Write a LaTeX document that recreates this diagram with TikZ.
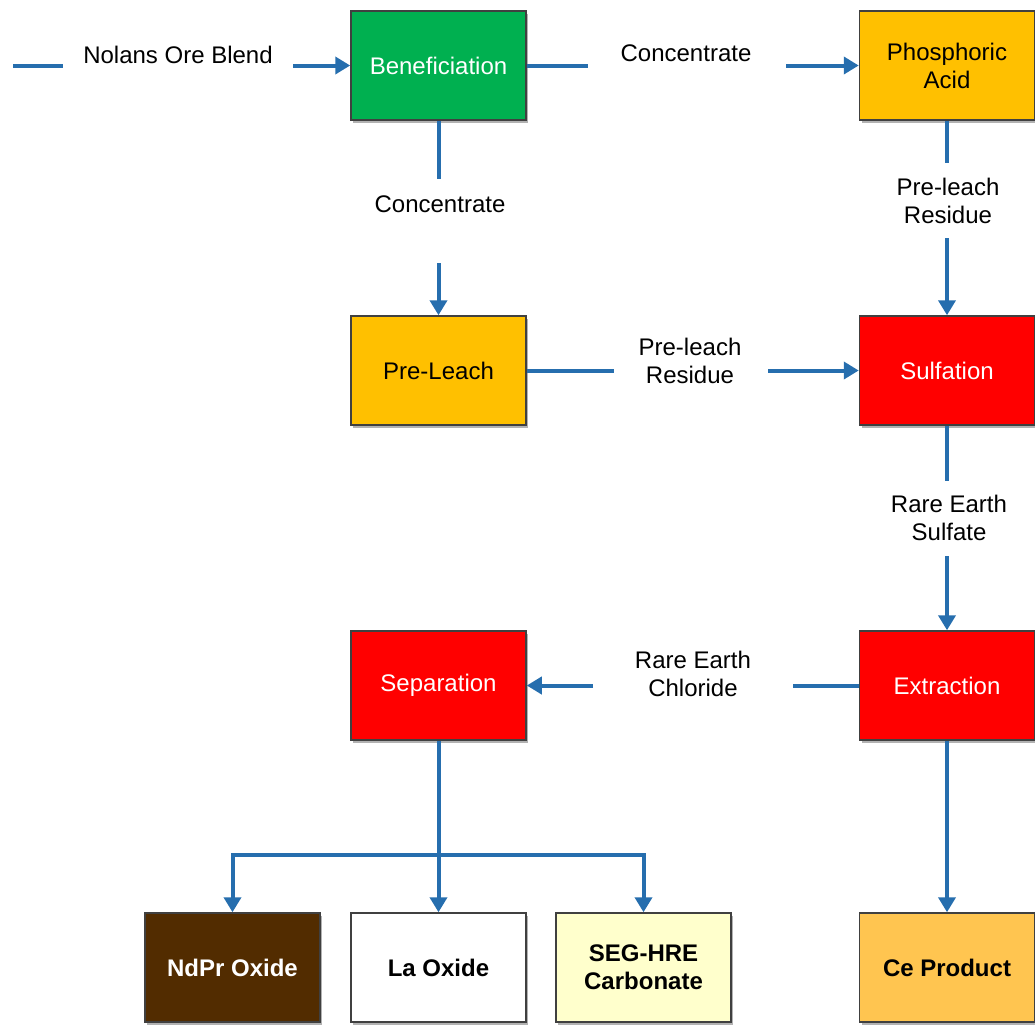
\documentclass[tikz,border=0pt]{standalone}
\usepackage{fontspec}
\setmainfont{Liberation Sans}
\usetikzlibrary{arrows.meta,shadows}
\definecolor{flowblue}{RGB}{38,110,174}
\definecolor{boxedge}{RGB}{64,64,64}
\definecolor{cgreen}{RGB}{0,176,80}
\definecolor{corange}{RGB}{255,192,0}
\definecolor{cred}{RGB}{255,0,0}
\definecolor{cbrown}{RGB}{82,44,0}
\definecolor{cyellow}{RGB}{255,255,204}
\definecolor{cce}{RGB}{255,197,80}
\tikzset{
  procbox/.style={rectangle, draw=boxedge, line width=1.5pt, minimum width=175pt, minimum height=109pt,
    inner sep=0pt, align=center, font=\fontsize{24}{28}\selectfont,
    drop shadow={shadow xshift=2pt, shadow yshift=-3pt, opacity=0.3, fill=black}},
  prodbox/.style={procbox, font=\fontsize{24}{28}\selectfont\bfseries},
  lbl/.style={align=center, inner sep=0pt, font=\fontsize{24}{28}\selectfont},
  flow/.style={draw=flowblue, line width=4pt},
  flowarrow/.style={flow, -{Triangle[length=15pt,width=17pt]}},
}
\begin{document}
\begin{tikzpicture}[x=1pt,y=1pt]
\useasboundingbox (0,0) rectangle (1035,-1026);
% boxes
\node[procbox, fill=cgreen, text=white] (benef) at (438.5,-65.5) {Beneficiation};
\node[procbox, fill=corange] (phos) at (947,-65.5) {Phosphoric\\Acid};
\node[procbox, fill=corange] (prel) at (438.5,-370.5) {Pre-Leach};
\node[procbox, fill=cred, text=white] (sulf) at (947,-370.5) {Sulfation};
\node[procbox, fill=cred, text=white] (sep) at (438.5,-685.5) {Separation};
\node[procbox, fill=cred, text=white] (extr) at (947,-685.5) {Extraction};
\node[prodbox, fill=cbrown, text=white] (ndpr) at (232.5,-967.5) {NdPr Oxide};
\node[prodbox, fill=white] (la) at (438.5,-967.5) {La Oxide};
\node[prodbox, fill=cyellow] (seg) at (643.5,-967.5) {SEG-HRE\\Carbonate};
\node[prodbox, fill=cce] (ce) at (947,-967.5) {Ce Product};
% labels
\node[lbl] (lore) at (178,-55) {Nolans Ore Blend};
\node[lbl] (lconc1) at (686,-53) {Concentrate};
\node[lbl] (lconc2) at (440,-204) {Concentrate};
\node[lbl] (lres1) at (948,-201) {Pre-leach\\Residue};
\node[lbl] (lres2) at (690,-361) {Pre-leach\\Residue};
\node[lbl] (lsulf) at (949,-518) {Rare Earth\\Sulfate};
\node[lbl] (lchl) at (693,-674) {Rare Earth\\Chloride};
% connector free ends
\coordinate (in) at (13,-65.5);
\coordinate (inA) at (63,-65.5);
\coordinate (inB) at (293,-65.5);
\coordinate (c1A) at (588,-65.5);
\coordinate (c1B) at (786,-65.5);
\coordinate (c2A) at (438.5,-179);
\coordinate (c2B) at (438.5,-263);
\coordinate (r1A) at (947,-163);
\coordinate (r1B) at (947,-238);
\coordinate (r2A) at (614,-370.5);
\coordinate (r2B) at (768,-370.5);
\coordinate (sA) at (947,-481);
\coordinate (sB) at (947,-556);
\coordinate (chA) at (793,-685.5);
\coordinate (chB) at (593,-685.5);
\coordinate (bus) at (438.5,-855);
% connectors
\draw[flow] (in) -- (inA);
\draw[flowarrow] (inB) -- (benef.west);
\draw[flow] (benef.east) -- (c1A);
\draw[flowarrow] (c1B) -- (phos.west);
\draw[flow] (benef.south) -- (c2A);
\draw[flowarrow] (c2B) -- (prel.north);
\draw[flow] (phos.south) -- (r1A);
\draw[flowarrow] (r1B) -- (sulf.north);
\draw[flow] (prel.east) -- (r2A);
\draw[flowarrow] (r2B) -- (sulf.west);
\draw[flow] (sulf.south) -- (sA);
\draw[flowarrow] (sB) -- (extr.north);
\draw[flow] (extr.west) -- (chA);
\draw[flowarrow] (chB) -- (sep.east);
\draw[flowarrow] (sep.south) -- (la.north);
\draw[flowarrow, line join=miter] (bus) -| (ndpr.north);
\draw[flowarrow, line join=miter] (bus) -| (seg.north);
\draw[flowarrow] (extr.south) -- (ce.north);
\end{tikzpicture}
\end{document}
